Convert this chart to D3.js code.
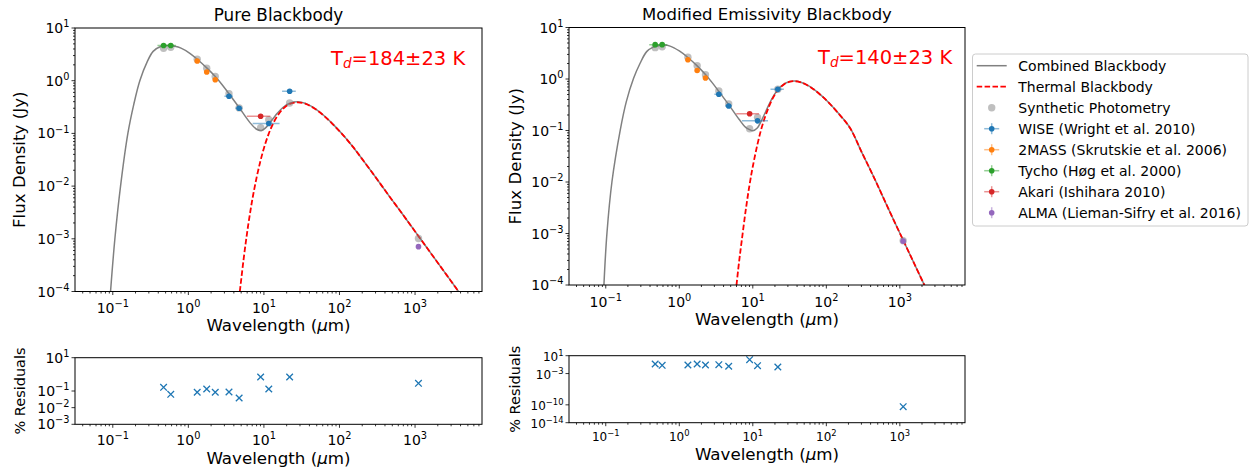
<!DOCTYPE html>
<html><head><meta charset="utf-8">
<script src="https://cdn.jsdelivr.net/npm/d3@7"></script>
<style>
body{margin:0;background:#fff;}
svg{font-family:"DejaVu Sans",sans-serif;display:block;}
</style></head><body>
<svg id="chart" width="1253" height="474"></svg>
<script>
// ---------------- photometry (wavelength in micron, flux in Jy) ----------------
const wiseWave = [3.45, 4.7, 11.6, 21.9];
const wiseFlux = [0.506, 0.300, 0.154, 0.63];
const wiseXerr = [0.45, 0.5, 4.5, 4.5];
const twomassWave = [1.31, 1.75, 2.27];
const twomassFlux = [2.37, 1.46, 1.045];
const twomassXerr = [0.06, 0.08, 0.1];
const tychoWave = [0.47, 0.585];
const tychoFlux = [4.65, 4.65];
const tychoXerr = [0.08, 0.1];
const akariWave = [9.05];
const akariFlux = [0.212];
const akariXerr = [3.1];
const almaWave = [1110];
const almaFlux = [7.1e-4];

// synthetic photometry at the observed bands (sorted by wavelength)
const synthWave = [0.47, 0.585, 1.31, 1.75, 2.27, 3.45, 4.7, 9.05, 11.6, 21.9, 1110];
const pureSynth = [4.13, 4.32, 2.56, 1.73, 1.20, 0.565, 0.305, 0.128, 0.182, 0.378, 1.01e-3];
const modSynth  = [4.06, 4.24, 2.64, 1.81, 1.21, 0.585, 0.327, 0.108, 0.180, 0.631, 7.25e-4];

// percent residuals
const pureResid = [0.167, 0.063, 0.084, 0.132, 0.084, 0.087, 0.038, 0.69, 0.132, 0.69, 0.29];
const modResid  = [0.139, 0.071, 0.083, 0.139, 0.083, 0.098, 0.043, 1.27, 0.058, 0.03, 3.9e-11];

// model curves: pure blackbody fit
const pureCombinedWave = [0.0934,0.1066,0.1267,0.1584,0.19,0.228,0.286,0.342,0.43,0.54,0.66,0.8,1.047,1.31,1.75,2.27,2.8,3.45,4.7,6.5,8.0,9.3,10.5,11.6,13.2,15,18,22,28,35,45,60,80,110,150,200,300,450,700,1000,1500,2200,3000,4200];
const pureCombinedFlux = [1e-4,1e-3,1e-2,0.1,0.36,1.0,2.3,3.6,4.45,4.65,4.5,4.15,3.31,2.55,1.75,1.2,0.84,0.565,0.31,0.162,0.12,0.114,0.127,0.15,0.19,0.24,0.314,0.374,0.398,0.374,0.312,0.228,0.155,0.095,0.056,0.0325,0.0148,6.6e-3,2.8e-3,1.38e-3,6.2e-4,2.9e-4,1.57e-4,8e-5];
const pureThermalWave = [4.8,5.5,6.2,7.0,8.0,9.0,10,11.5,13,15,18,22,28,35,45,60,80,110,150,200,300,450,700,1000,1500,2200,3000,4200];
const pureThermalFlux = [1e-4,5.2e-4,1.83e-3,5.4e-3,0.0145,0.030,0.0525,0.096,0.146,0.2125,0.295,0.362,0.389,0.366,0.307,0.226,0.154,0.095,0.056,0.0325,0.0148,6.6e-3,2.8e-3,1.38e-3,6.2e-4,2.9e-4,1.57e-4,8e-5];

// model curves: modified emissivity fit
const modCombinedWave = [0.0944,0.1037,0.1214,0.1574,0.19,0.239,0.292,0.36,0.442,0.53,0.62,0.75,1.0,1.31,1.75,2.27,2.8,3.45,4.7,6.5,8.0,9.1,10,11.5,13,15,18,22,27,32,37,45,60,80,110,150,210,300,450,700,1110,1600,2300];
const modCombinedFlux = [1e-4,1e-3,0.0101,0.102,0.36,1.03,2.0,3.4,4.15,4.45,4.55,4.35,3.5,2.62,1.8,1.22,0.85,0.575,0.318,0.165,0.115,0.104,0.099,0.112,0.152,0.234,0.404,0.626,0.81,0.894,0.912,0.866,0.708,0.519,0.338,0.206,0.112,0.039,0.0118,3.0e-3,7.4e-4,2.45e-4,8.2e-5];
const modThermalWave = [6.0,6.5,7,8,9,10,11.5,13,15,18,22,27,32,37,45,60,80,110,150,210,300,450,700,1110,1600,2300];
const modThermalFlux = [1e-4,2.8e-4,6.5e-4,2.8e-3,8.6e-3,0.02,0.052,0.105,0.2,0.38,0.61,0.8,0.886,0.906,0.862,0.706,0.518,0.337,0.205,0.112,0.039,0.0118,3.0e-3,7.4e-4,2.45e-4,8.2e-5];

const xTickExps = [-1, 0, 1, 2, 3];
const mainYTickExps = [1, 0, -1, -2, -3, -4];
const pureResidTickExps = [1, -1, -2, -3];
const modResidTickExps = [1, -3, -10, -14];

// ---------------- drawing ----------------
const svg = d3.select("#chart");
svg.append("rect").attr("width", 1253).attr("height", 474).attr("fill", "#fff");

const C = {blue:"#1f77b4", orange:"#ff7f0e", green:"#2ca02c", red:"#d62728", purple:"#9467bd"};
const xDomain = [Math.pow(10, -1.5), Math.pow(10, 3.886)];
let clipCount = 0;

function expText(sel, e, fs, anchor) {
  const t = sel.attr("font-size", fs).attr("text-anchor", anchor).attr("fill", "#000");
  t.append("tspan").text("10");
  t.append("tspan").attr("dy", -0.42 * fs).attr("font-size", fs * 0.7)
    .text(e < 0 ? "\u2212" + (-e) : String(e));
}

function makePanel(box, yDomain, yExps, opt) {
  const g = svg.append("g");
  const x = d3.scaleLog().domain(xDomain).range([box.x0, box.x1]);
  const y = d3.scaleLog().domain(yDomain).range([box.y1, box.y0]);
  const id = "clip" + (clipCount++);
  svg.append("clipPath").attr("id", id).append("rect")
    .attr("x", box.x0).attr("y", box.y0).attr("width", box.x1 - box.x0).attr("height", box.y1 - box.y0);
  const plot = g.append("g").attr("clip-path", `url(#${id})`);
  const axes = g.append("g");
  const tf = opt.tickFont;
  // x ticks
  const [lo, hi] = xDomain;
  for (let n = -2; n <= 4; n++) {
    for (let k = 1; k <= 9; k++) {
      const v = k * Math.pow(10, n);
      if (v < lo || v > hi) continue;
      const px = x(v);
      const len = k === 1 ? 3.5 : 2;
      axes.append("line").attr("x1", px).attr("x2", px).attr("y1", box.y1).attr("y2", box.y1 + len)
        .attr("stroke", "#000").attr("stroke-width", 0.8);
    }
  }
  xTickExps.forEach(e => {
    expText(axes.append("text").attr("x", x(Math.pow(10, e))).attr("y", box.y1 + opt.xTickOff), e, tf, "middle");
  });
  // y ticks
  if (opt.yMinor) {
    const [ylo, yhi] = yDomain;
    for (let n = Math.floor(Math.log10(ylo)); n <= Math.log10(yhi); n++) {
      for (let k = 2; k <= 9; k++) {
        const v = k * Math.pow(10, n);
        if (v < ylo || v > yhi) continue;
        const py = y(v);
        axes.append("line").attr("x1", box.x0 - 2).attr("x2", box.x0).attr("y1", py).attr("y2", py)
          .attr("stroke", "#000").attr("stroke-width", 0.8);
      }
    }
  }
  yExps.forEach(e => {
    const py = y(Math.pow(10, e));
    axes.append("line").attr("x1", box.x0 - 3.5).attr("x2", box.x0).attr("y1", py).attr("y2", py)
      .attr("stroke", "#000").attr("stroke-width", 0.8);
    expText(axes.append("text").attr("x", box.x0 - 5.5).attr("y", py + 5), e, opt.yTickFont || tf, "end");
  });
  // frame
  axes.append("rect").attr("x", box.x0).attr("y", box.y0)
    .attr("width", box.x1 - box.x0).attr("height", box.y1 - box.y0)
    .attr("fill", "none").attr("stroke", "#000").attr("stroke-width", 1);
  // axis labels
  const xl = axes.append("text").attr("x", (box.x0 + box.x1) / 2).attr("y", box.y1 + opt.xlabOff)
    .attr("text-anchor", "middle").attr("font-size", opt.labFont).attr("fill", "#000");
  xl.append("tspan").text("Wavelength (");
  xl.append("tspan").attr("font-style", "italic").text("\u03bc");
  xl.append("tspan").text("m)");
  axes.append("text")
    .attr("transform", `translate(${opt.ylabX},${(box.y0 + box.y1) / 2}) rotate(-90)`)
    .attr("text-anchor", "middle").attr("font-size", opt.ylabFont).attr("fill", "#000")
    .text(opt.ylab);
  return {plot, axes, x, y};
}

function curve(p, wave, flux, color, dashed) {
  const pts = wave.map((w, i) => [p.x(w), p.y(flux[i])]);
  p.plot.append("path").attr("d", d3.line().curve(d3.curveCatmullRom.alpha(0.5))(pts))
    .attr("fill", "none").attr("stroke", color).attr("stroke-width", dashed ? 1.8 : 1.5)
    .attr("stroke-dasharray", dashed ? "5.5,2.4" : null);
}

function errorPoints(p, wave, flux, xerr, color) {
  wave.forEach((w, i) => {
    const cy = p.y(flux[i]);
    if (xerr) {
      p.plot.append("line").attr("x1", p.x(w - xerr[i])).attr("x2", p.x(w + xerr[i]))
        .attr("y1", cy).attr("y2", cy).attr("stroke", color).attr("stroke-opacity", 0.5).attr("stroke-width", 1.5);
    }
    p.plot.append("circle").attr("cx", p.x(w)).attr("cy", cy).attr("r", 2.8).attr("fill", color);
  });
}

function mainPanel(box, title, titleY, titleFont, combW, combF, thW, thF, synth, tempLabel, tx, ty, ylabX) {
  const p = makePanel(box, [1e-4, 10], mainYTickExps,
    {tickFont: 14, xTickOff: 21.5, labFont: 16.7, ylabFont: 16.7, xlabOff: 39.5, ylabX, ylab: "Flux Density (Jy)", yMinor: true});
  curve(p, combW, combF, "#808080", false);
  curve(p, thW, thF, "red", true);
  synthWave.forEach((w, i) => {
    p.plot.append("circle").attr("cx", p.x(w)).attr("cy", p.y(synth[i])).attr("r", 3.7)
      .attr("fill", "#808080").attr("fill-opacity", 0.5);
  });
  errorPoints(p, wiseWave, wiseFlux, wiseXerr, C.blue);
  errorPoints(p, twomassWave, twomassFlux, twomassXerr, C.orange);
  errorPoints(p, tychoWave, tychoFlux, tychoXerr, C.green);
  errorPoints(p, akariWave, akariFlux, akariXerr, C.red);
  errorPoints(p, almaWave, almaFlux, null, C.purple);
  svg.append("text").attr("x", (box.x0 + box.x1) / 2).attr("y", titleY).attr("text-anchor", "middle")
    .attr("font-size", titleFont).attr("fill", "#000").text(title);
  const t = svg.append("text").attr("x", tx).attr("y", ty).attr("font-size", 19.5).attr("fill", "red");
  t.append("tspan").text("T");
  t.append("tspan").attr("font-size", 13.6).attr("font-style", "italic").attr("dy", 3).text("d");
  t.append("tspan").attr("dy", -3).text(tempLabel);
  return p;
}

function residPanel(box, resid, exps, yDomain, tickFont, xTickOff, ylabX, xlabOff) {
  const p = makePanel(box, yDomain, exps,
    {tickFont, xTickOff, labFont: 16.7, ylabFont: 14.5, xlabOff, ylabX, ylab: "% Residuals", yMinor: false});
  const s = 3.3;
  synthWave.forEach((w, i) => {
    const cx = p.x(w), cy = p.y(resid[i]);
    p.plot.append("path")
      .attr("d", `M${cx - s},${cy - s}L${cx + s},${cy + s}M${cx - s},${cy + s}L${cx + s},${cy - s}`)
      .attr("stroke", C.blue).attr("stroke-width", 1.3).attr("fill", "none");
  });
  return p;
}

mainPanel({x0: 75, x1: 482, y0: 28, y1: 291.5}, "Pure Blackbody", 20.5, 16.8,
  pureCombinedWave, pureCombinedFlux, pureThermalWave, pureThermalFlux, pureSynth,
  "=184\u00b123 K", 331, 65, 25.3);
mainPanel({x0: 569, x1: 965, y0: 27.5, y1: 285}, "Modified Emissivity Blackbody", 19.5, 16.5,
  modCombinedWave, modCombinedFlux, modThermalWave, modThermalFlux, modSynth,
  "=140\u00b123 K", 818, 64, 520.5);

residPanel({x0: 75, x1: 482, y0: 357.7, y1: 424.3}, pureResid, pureResidTickExps, [1e-3, 10], 14, 21, 25.3, 40);
residPanel({x0: 569, x1: 965, y0: 355.7, y1: 422.7}, modResid, modResidTickExps, [1e-14, 10], 12, 18.5, 520, 37.5);

// ---------------- legend ----------------
const leg = svg.append("g");
leg.append("rect").attr("x", 972.5).attr("y", 54).attr("width", 275.5).attr("height", 172).attr("rx", 3)
  .attr("fill", "#fff").attr("stroke", "#cccccc").attr("stroke-width", 1);
const legendLabels = ["Combined Blackbody", "Thermal Blackbody", "Synthetic Photometry",
  "WISE (Wright et al. 2010)", "2MASS (Skrutskie et al. 2006)", "Tycho (H\u00f8g et al. 2000)",
  "Akari (Ishihara 2010)", "ALMA (Lieman-Sifry et al. 2016)"];
const legendKinds = ["line", "dash", "synth", "err", "err", "err", "err", "yerr"];
const legendColors = ["#808080", "red", "#808080", C.blue, C.orange, C.green, C.red, C.purple];
legendLabels.forEach((lab, i) => {
  const cy = 65.7 + i * 21;
  const kind = legendKinds[i], col = legendColors[i];
  if (kind === "line" || kind === "dash") {
    leg.append("line").attr("x1", 976.7).attr("x2", 1006.7).attr("y1", cy).attr("y2", cy)
      .attr("stroke", col).attr("stroke-width", kind === "dash" ? 1.8 : 1.5)
      .attr("stroke-dasharray", kind === "dash" ? "5.5,2.4" : null);
  } else if (kind === "synth") {
    leg.append("circle").attr("cx", 991.7).attr("cy", cy).attr("r", 3.7).attr("fill", col).attr("fill-opacity", 0.5);
  } else {
    if (kind === "err") {
      leg.append("line").attr("x1", 984.2).attr("x2", 999.2).attr("y1", cy).attr("y2", cy)
        .attr("stroke", col).attr("stroke-opacity", 0.5).attr("stroke-width", 1.5);
    }
    leg.append("line").attr("x1", 991.7).attr("x2", 991.7).attr("y1", cy - 5.5).attr("y2", cy + 5.5)
      .attr("stroke", col).attr("stroke-opacity", 0.5).attr("stroke-width", 1.5);
    leg.append("circle").attr("cx", 991.7).attr("cy", cy).attr("r", 2.8).attr("fill", col);
  }
  leg.append("text").attr("x", 1018.3).attr("y", cy + 5).attr("font-size", 14).attr("fill", "#000").text(lab);
});
</script>
</body></html>
